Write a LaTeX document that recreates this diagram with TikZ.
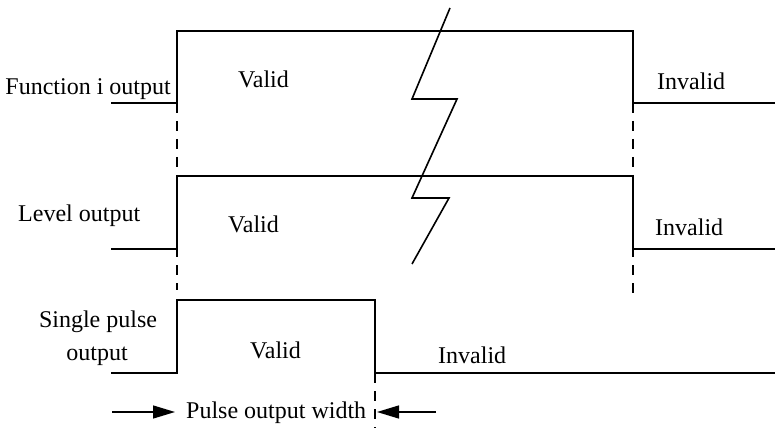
\documentclass[tikz,border=0pt]{standalone}
\usepackage{fontspec}
\setmainfont{Liberation Serif}
\usetikzlibrary{positioning, arrows.meta}

\begin{document}
\begin{tikzpicture}[
    x=1pt, y=-1pt,
    wave/.style={line width=1.6pt, line join=miter},
    guide/.style={line width=1.4pt, dash pattern=on 10pt off 8pt},
    txt/.style={inner sep=0pt, font=\fontsize{24}{28}\selectfont},
    >={Triangle[length=22pt, width=13pt]}
]
  \useasboundingbox (0,0) rectangle (775,430);

  % signal levels
  \coordinate (f0) at (111,103);
  \coordinate (l0) at (111,249);
  \coordinate (p0) at (111,373);

  % waveforms
  \draw[wave] (f0) -- (177,103) -- (177,31) -- (633,31) -- (633,103) -- (775,103);
  \draw[wave] (l0) -- (177,249) -- (177,176) -- (633,176) -- (633,249) -- (775,249);
  \draw[wave] (p0) -- (177,373) -- (177,300) -- (375,300) -- (375,373) -- (775,373);

  % break mark
  \draw[wave] (450,8) -- (412,99) -- (457,99) -- (412,198) -- (449,198) -- (412,264);

  % guide lines
  \draw[guide] (177,103) -- (177,290);
  \draw[guide] (633,103) -- (633,300);
  \draw[guide] (375,373) -- (375,428);

  % labels
  \node[txt, anchor=base east] (fname) at (171,95) {Function i output};
  \node[txt, anchor=base west] (lname) at (18,222) {Level output};
  \node[txt, anchor=base] (pname) at (98,327) {Single pulse};
  \node[txt, anchor=base] (pname2) at (97,360) {output};

  \node[txt, anchor=base west] (fvalid) at (238,88) {Valid};
  \node[txt, anchor=base west] (finvalid) at (657,90) {Invalid};
  \node[txt, anchor=base west] (lvalid) at (228,233) {Valid};
  \node[txt, anchor=base west] (linvalid) at (655,235) {Invalid};
  \node[txt, anchor=base west] (pvalid) at (250,358) {Valid};
  \node[txt, anchor=base west] (pinvalid) at (438,363) {Invalid};

  % pulse width
  \node[txt, anchor=base west] (width) at (186,418) {Pulse output width};
  \coordinate (wl0) at (112,412);
  \coordinate (wl1) at (175,412);
  \coordinate (wr0) at (436,412);
  \coordinate (wr1) at (377,412);
  \draw[->, line width=1.4pt] (wl0) -- (wl1);
  \draw[->, line width=1.4pt] (wr0) -- (wr1);
\end{tikzpicture}
\end{document}
